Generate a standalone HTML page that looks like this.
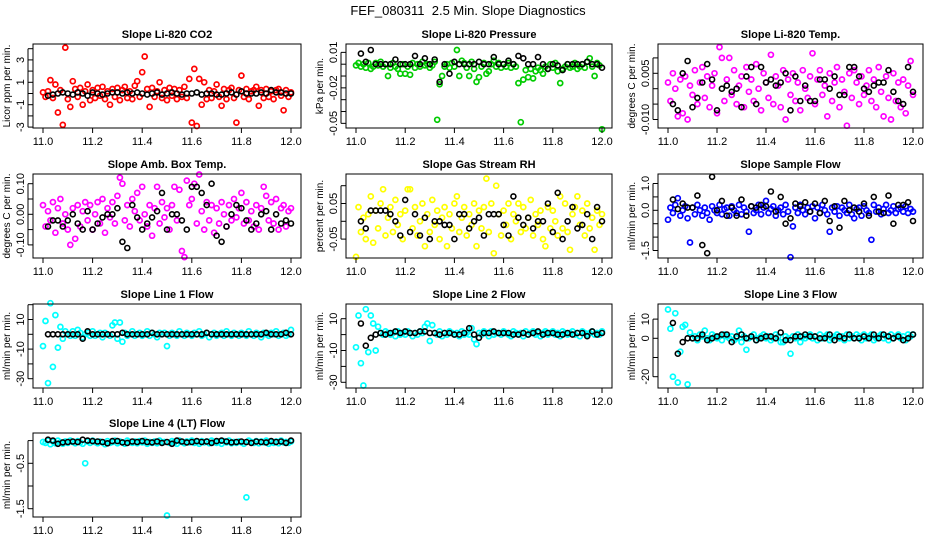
<!DOCTYPE html>
<html><head><meta charset="utf-8">
<style>
html,body{margin:0;padding:0;background:#fff;}
svg{display:block;font-family:"Liberation Sans",Arial,sans-serif;}
</style></head>
<body>
<svg id="chart" width="936" height="540" viewBox="0 0 936 540">
<text x="468" y="15" text-anchor="middle" font-size="13" style="white-space:pre" xml:space="preserve">FEF_080311  2.5 Min. Slope Diagnostics</text>
</svg>
<script>
const tColor = [11.00,11.01,11.02,11.03,11.04,11.05,11.06,11.07,11.08,11.09,11.10,11.11,11.12,11.13,11.14,11.15,11.16,11.17,11.18,11.19,11.20,11.21,11.22,11.23,11.24,11.25,11.26,11.27,11.28,11.29,11.30,11.31,11.32,11.33,11.34,11.35,11.36,11.37,11.38,11.39,11.40,11.41,11.42,11.43,11.44,11.45,11.46,11.47,11.48,11.49,11.50,11.51,11.52,11.53,11.54,11.55,11.56,11.57,11.58,11.59,11.60,11.61,11.62,11.63,11.64,11.65,11.66,11.67,11.68,11.69,11.70,11.71,11.72,11.73,11.74,11.75,11.76,11.77,11.78,11.79,11.80,11.81,11.82,11.83,11.84,11.85,11.86,11.87,11.88,11.89,11.90,11.91,11.92,11.93,11.94,11.95,11.96,11.97,11.98,11.99,12.00];
const tBlack = [11.02,11.04,11.06,11.08,11.10,11.12,11.14,11.16,11.18,11.20,11.22,11.24,11.26,11.28,11.30,11.32,11.34,11.36,11.38,11.40,11.42,11.44,11.46,11.48,11.50,11.52,11.54,11.56,11.58,11.60,11.62,11.64,11.66,11.68,11.70,11.72,11.74,11.76,11.78,11.80,11.82,11.84,11.86,11.88,11.90,11.92,11.94,11.96,11.98,12.00];
const xTicks = [11.0,11.2,11.4,11.6,11.8,12.0];
const xTickLabels = ["11.0","11.2","11.4","11.6","11.8","12.0"];

const co2Color = [0.1,-0.3,0.2,1.2,-0.4,0.8,-1.7,0.3,-2.8,4.1,-0.5,-1.2,1.1,0.4,-0.3,0.5,-1.0,0.2,0.8,-0.6,0.3,-0.4,0.5,-0.2,0.6,-0.5,0.2,-1.0,0.4,-0.3,0.5,-0.6,0.3,0.6,-0.4,0.2,-0.5,0.7,1.1,-0.3,1.9,3.3,0.4,-1.2,0.5,-0.3,0.2,1.0,-0.4,0.3,-0.6,0.5,-0.2,0.4,-0.5,0.3,-0.3,0.6,-0.4,1.3,-2.6,2.2,-2.9,1.3,-1.0,1.0,-0.5,0.3,-0.4,0.2,0.8,-0.3,-1.1,0.4,-0.5,0.3,0.5,-0.4,-2.6,0.3,1.6,-0.3,0.4,-0.5,0.2,0.3,0.6,-1.1,0.3,-0.4,0.4,-0.3,0.2,-0.5,0.3,0.4,-0.2,-1.5,0.3,-0.3,0.1];
const co2Black = [-0.2,-0.1,0.0,0.1,0.0,-0.1,0.1,0.0,-0.2,0.1,0.0,-0.1,0.0,0.1,0.1,0.0,0.1,0.0,0.1,0.0,-0.1,0.0,0.1,-0.1,0.0,0.1,0.0,-0.1,0.0,0.0,0.1,-0.1,0.0,0.0,-0.1,-0.1,0.0,0.1,-0.1,0.2,0.0,0.0,0.0,0.1,0.0,0.3,0.1,0.1,0.0,0.0];
const co2Ticks = [4,3,2,1,0,-1,-2,-3];
const co2TickLabels = ["","3","","1","","-1","","-3"];

const presColor = [-0.001,0.001,-0.002,0,-0.003,0.001,-0.004,-0.002,0.001,-0.001,0.002,-0.002,0,-0.010,-0.003,0.001,-0.002,-0.004,-0.008,0,-0.008,-0.002,-0.009,0.001,-0.003,0,-0.002,0.002,-0.001,0,-0.003,-0.001,0.002,-0.047,-0.017,-0.010,-0.002,0,-0.003,0.001,-0.002,0.012,-0.010,0.003,0.001,-0.003,-0.010,0.002,-0.004,-0.015,-0.011,-0.002,0.001,-0.008,-0.006,0,0.003,-0.002,0.001,-0.003,0,-0.002,0.001,-0.003,0,-0.002,-0.016,-0.049,-0.013,-0.005,-0.011,-0.004,-0.012,-0.006,-0.003,-0.005,-0.008,-0.002,-0.004,0,-0.003,0.001,-0.006,-0.016,-0.004,-0.002,0,-0.003,-0.002,0.001,-0.004,-0.002,0,-0.003,0.002,0.005,-0.002,-0.010,0.001,-0.001,-0.055];
const presBlack = [0.009,0.002,0.012,0,0,0,0,0.004,0,0,0,0.007,0,0.005,0,0.004,-0.015,0,-0.008,0.002,0,0,0,0,0.002,0,0,0.006,0,0,0.003,0,0.007,0.005,0,0,0.006,0,-0.004,0,-0.001,-0.005,0,0,0,0,0.002,0,0,-0.003];
const presTicks = [0.01,0,-0.01,-0.02,-0.03,-0.04,-0.05];
const presTickLabels = ["0.01","","","-0.02","","","-0.05"];

const tempColor = [0.002,-0.004,0.005,0.000,-0.009,0.003,-0.008,0.004,-0.010,0.001,-0.002,0.006,-0.005,0.002,0.007,-0.003,0.004,-0.006,0.001,0.005,-0.008,0.0135,0.010,-0.004,0.003,0.010,-0.002,0.006,-0.005,0.001,0.004,-0.006,0.007,-0.001,0.003,-0.004,0.008,0.000,-0.007,0.005,0.002,-0.003,0.011,-0.005,0.004,0.001,-0.006,0.006,-0.010,0.003,-0.002,0.005,-0.004,0.002,-0.007,0.006,0.000,-0.003,0.004,0.0115,-0.005,0.003,0.006,-0.002,0.001,-0.009,0.005,-0.004,0.002,0.007,-0.006,0.003,-0.001,-0.012,0.005,-0.003,0.006,0.002,-0.005,0.004,-0.002,0.001,0.006,-0.004,0.003,-0.006,0.007,-0.001,-0.009,0.004,-0.003,-0.010,0.005,-0.004,0.002,-0.006,0.003,-0.008,0.001,0.009,-0.002];
const tempBlack = [-0.005,-0.007,0.005,0.009,-0.006,-0.003,0.002,0.008,0.003,-0.007,0.000,0.001,-0.001,0.000,-0.006,0.004,0.007,-0.005,0.007,0.002,0.003,0.001,0.002,0.005,-0.007,0.004,-0.004,0.001,-0.004,-0.004,0.003,0.003,0.000,0.004,-0.002,-0.002,0.007,0.007,0.004,0.000,-0.001,0.001,0.002,0.002,0.006,-0.001,-0.004,-0.005,0.007,-0.001];
const tempTicks = [0.010,0.005,0,-0.005,-0.010];
const tempTickLabels = ["","0.005","","","-0.010"];

const ambColor = [0.03,-0.04,0.01,-0.02,0.04,-0.06,0.02,0.05,-0.03,0.00,-0.05,-0.10,0.02,-0.08,0.03,-0.04,0.01,0.04,-0.02,0.03,-0.05,0.00,0.04,-0.03,0.05,-0.06,0.02,-0.01,0.04,-0.03,0.06,0.12,0.10,-0.02,0.03,-0.04,0.05,0.01,0.07,-0.02,0.09,0.00,-0.04,0.03,-0.07,0.02,0.09,-0.03,0.04,-0.01,0.02,-0.05,0.03,0.09,-0.02,0.08,-0.12,-0.14,0.11,0.03,0.05,0.10,-0.03,0.13,0.01,-0.05,0.04,-0.02,0.03,-0.06,0.02,-0.03,0.04,0.00,-0.04,0.03,-0.02,0.05,-0.01,0.02,0.07,-0.03,0.04,-0.02,0.01,-0.04,0.03,-0.05,0.02,0.09,0.06,-0.02,0.04,-0.03,0.05,-0.05,0.02,0.03,-0.04,0.01,0.02];
const ambBlack = [-0.04,-0.02,-0.02,-0.04,-0.02,0.00,-0.03,-0.05,0.01,-0.05,-0.03,-0.01,0.00,0.00,0.02,-0.09,-0.11,0.03,-0.01,-0.05,-0.03,-0.01,0.01,0.07,-0.05,0.00,0.00,-0.02,-0.05,0.09,0.09,0.07,0.03,0.10,-0.07,-0.09,-0.04,0.00,0.03,0.02,-0.02,-0.05,-0.03,0.00,0.01,-0.05,0.00,-0.03,-0.02,-0.03];
const ambTicks = [0.10,0.05,0,-0.05,-0.10];
const ambTickLabels = ["0.10","","0.00","","-0.10"];

const rhColor = [-0.10,0.04,-0.03,0.01,-0.05,0.02,0.07,-0.06,0.03,-0.02,0.05,0.09,-0.04,0.01,0.04,-0.03,0.06,-0.01,0.02,-0.05,0.03,0.09,0.09,-0.02,0.04,-0.04,0.00,0.05,-0.07,0.02,-0.03,0.06,-0.01,0.03,-0.05,0.01,0.04,-0.07,0.02,-0.02,0.05,0.07,-0.03,0.01,0.04,-0.04,0.02,-0.01,0.05,-0.07,0.03,-0.02,0.04,0.12,-0.03,0.05,-0.09,0.10,0.02,-0.04,0.03,-0.01,0.05,-0.05,0.02,0.00,0.05,-0.03,0.04,-0.02,0.01,0.06,-0.04,0.02,-0.01,0.03,-0.05,-0.07,0.04,-0.02,0.03,0.00,-0.04,0.07,-0.02,0.05,-0.03,-0.08,0.02,0.04,0.07,-0.01,0.03,-0.04,0.05,-0.02,0.01,-0.08,0.03,-0.01,0.02];
const rhBlack = [0.00,-0.02,0.03,0.03,0.03,0.03,0.02,0.00,-0.04,0.06,-0.03,0.02,-0.04,0.01,-0.05,0.00,0.00,-0.01,-0.01,-0.05,0.02,0.02,-0.02,0.00,0.01,-0.04,0.02,0.02,0.02,-0.01,-0.04,0.07,0.01,-0.01,0.01,-0.02,0.00,0.00,0.05,-0.03,0.08,-0.05,0.00,0.04,-0.02,-0.01,0.02,-0.05,0.04,0.00];
const rhTicks = [0.10,0.05,0,-0.05];
const rhTickLabels = ["","0.05","","-0.05"];

const sampColor = [-0.35,0.1,-0.1,0.2,0.45,-0.2,0.0,0.15,-0.3,-1.2,0.1,-0.15,0.2,0.0,-0.2,0.1,-0.1,-0.35,0.15,0.0,-0.1,0.2,-0.15,0.05,0.1,-0.2,0.15,0.0,-0.1,0.2,-0.15,0.1,-0.05,-0.8,0.15,-0.1,0.0,0.2,-0.15,0.1,0.35,-0.1,0.05,0.15,-0.2,0.0,0.1,-0.15,0.2,-0.05,-1.75,-0.6,0.1,-0.1,0.2,0.0,-0.15,0.1,-0.05,0.15,-0.3,0.1,-0.1,0.2,0.0,-0.15,-0.8,0.1,-0.05,0.15,-0.2,0.1,0.0,-0.1,0.2,-0.15,-0.3,0.05,0.1,-0.2,0.15,0.0,-0.1,-1.1,0.2,-0.05,0.1,-0.15,0.05,0.2,-0.1,0.0,0.15,-0.1,0.05,0.1,-0.05,0.15,-0.1,0.05,-0.05];
const sampBlack = [0.4,0.05,0.25,0.1,0.1,0.55,-1.3,-1.6,1.25,0.0,0.35,-0.2,0.1,-0.2,0.4,-0.2,0.15,0.1,0.2,0.15,0.7,-0.05,0.5,-0.5,-0.3,0.25,0.15,0.3,-0.05,0.25,-0.1,0.35,-0.4,0.15,-0.65,0.35,0.0,0.1,-0.05,0.25,-0.2,0.5,-0.05,-0.1,0.55,-0.5,0.2,0.2,0.3,-0.4];
const sampTicks = [1.0,0.5,0,-0.5,-1.0,-1.5];
const sampTickLabels = ["1.0","","0.0","","","-1.5"];

const l1Color = [-8,9,-33,21,-22,13,-9,5,-3,2,0,-1,2,-1,3,1,-2,0,1,-1,2,-1,0,1,-2,1,0,-1,6,8,-3,8,-5,1,-1,0,2,-1,0,1,-1,0,2,-1,1,0,-2,1,0,1,-8,-1,1,0,-1,2,0,-1,1,0,-1,1,0,2,-1,0,1,-2,0,1,-1,0,1,-1,2,0,-1,1,0,-1,1,0,-1,2,0,-1,1,0,-2,1,0,-1,1,0,2,-1,0,1,-1,0,3];
const l1Black = [0,0,0,0,0,0,0,-3,2,0,0,0,0,0,0,1,0,0,0,0,0,1,0,0,0,0,0,0,0,0,0,0,1,0,0,0,0,0,0,0,0,0,0,0,1,0,0,0,1,0];
const l1Ticks = [20,10,0,-10,-20,-30];
const l1TickLabels = ["","10","","-10","","-30"];

const l2Color = [-8,12,-18,-32,16,-11,12,7,-10,5,1,0,2,1,0,1,-1,2,0,1,0,2,1,-1,1,0,2,1,5,7,-4,6,1,0,2,-1,1,0,2,1,0,1,-1,2,0,1,0,4,-3,-6,1,0,2,1,-1,2,0,1,1,0,2,1,0,-1,2,1,0,1,-1,2,0,1,2,0,1,-1,1,2,0,1,2,0,1,-1,2,1,0,1,2,0,1,-1,2,1,0,1,2,0,1,0,2];
const l2Black = [7,-7,-2,0,1,0,1,2,1,2,1,1,2,2,1,1,0,1,1,0,0,1,4,0,-2,1,1,2,1,1,1,0,0,1,0,1,2,0,1,1,0,0,1,0,1,1,-1,2,0,1];
const l2Ticks = [10,0,-10,-20,-30];
const l2TickLabels = ["10","","-10","","-30"];

const l3Color = [15,5,-20,13,-23,-7,6,7,-24,3,0,1,-1,2,1,4,0,-1,2,1,0,1,-1,2,1,0,1,-1,0,4,-2,1,-6,0,1,2,-1,0,1,2,0,1,-1,0,2,1,-2,-2,1,0,-8,1,0,2,-2,1,0,1,2,0,1,-1,2,0,1,2,-1,0,1,2,0,1,-1,2,0,1,0,2,1,-1,2,0,1,2,-1,0,1,2,0,1,-1,2,0,1,2,0,1,-1,2,1,2];
const l3Black = [8,-8,-2,0,0,0,2,-1,0,1,2,2,-2,1,2,0,1,-1,0,1,1,0,3,-1,-1,1,1,2,1,1,0,0,2,-1,1,0,2,0,0,1,0,2,0,2,1,0,1,-1,0,2];
const l3Ticks = [10,0,-10,-20];
const l3TickLabels = ["10","0","","-20"];

const l4Color = [-0.03,-0.05,0.0,-0.08,-0.02,-0.06,0.0,-0.04,-0.07,-0.02,-0.05,0.0,-0.03,-0.06,-0.01,-0.04,-0.07,-0.50,-0.02,-0.05,0.0,-0.03,-0.06,-0.02,-0.04,-0.08,-0.01,-0.05,-0.03,0.0,-0.06,-0.02,-0.04,-0.07,0.0,-0.03,-0.05,-0.02,-0.06,-0.01,-0.04,0.0,-0.07,-0.03,-0.05,-0.02,-0.06,0.0,-0.04,-0.03,-1.65,-0.05,-0.01,-0.04,-0.07,0.0,-0.03,-0.06,-0.02,-0.04,0.0,-0.05,-0.03,-0.07,-0.01,-0.04,-0.02,-0.06,0.0,-0.03,-0.05,-0.02,-0.07,-0.01,-0.04,0.0,-0.06,-0.03,-0.05,-0.02,-0.04,-0.07,-1.25,0.0,-0.03,-0.05,-0.01,-0.06,-0.02,-0.04,0.0,-0.07,-0.03,-0.05,-0.02,-0.06,0.0,-0.04,-0.03,-0.05,-0.02];
const l4Black = [0.02,0.0,-0.07,-0.04,-0.03,-0.02,-0.03,0.02,0.0,-0.01,-0.02,-0.03,-0.06,-0.01,-0.01,-0.04,-0.05,-0.02,-0.03,-0.01,-0.03,-0.04,-0.02,-0.05,-0.03,-0.07,0.0,-0.02,-0.04,-0.03,-0.01,-0.03,-0.02,-0.05,-0.01,0.0,-0.02,-0.04,-0.03,-0.02,-0.03,-0.05,-0.02,-0.03,-0.04,-0.01,-0.03,-0.02,-0.05,0.0];
const l4Ticks = [0,-0.5,-1.0,-1.5];
const l4TickLabels = ["","-0.5","","-1.5"];

// layout (pixel geometry only)
const cols = [{l:33,r:301},{l:346,r:612},{l:658,r:923}];
const rows = [{t:44,b:128},{t:174,b:258},{t:304,b:388},{t:433,b:517}];

const panels = [
 {key:'co2',title:'Slope Li-820 CO2',ylab:'Licor ppm per min.',color:'#ff0000',c:0,r:0,y0:93.5,ys:11.2,col:co2Color,blk:co2Black,ticks:co2Ticks,tl:co2TickLabels},
 {key:'pressure',title:'Slope Li-820 Pressure',ylab:'kPa per min.',color:'#00cc00',c:1,r:0,y0:64.2,ys:1183,col:presColor,blk:presBlack,ticks:presTicks,tl:presTickLabels},
 {key:'li820-temp',title:'Slope Li-820 Temp.',ylab:'degrees C per min.',color:'#ff00ff',c:2,r:0,y0:88.7,ys:3080,col:tempColor,blk:tempBlack,ticks:tempTicks,tl:tempTickLabels},
 {key:'amb-box-temp',title:'Slope Amb. Box Temp.',ylab:'degrees C per min.',color:'#ff00ff',c:0,r:1,y0:214.3,ys:306,col:ambColor,blk:ambBlack,ticks:ambTicks,tl:ambTickLabels},
 {key:'gas-stream-rh',title:'Slope Gas Stream RH',ylab:'percent per min.',color:'#ffff00',c:1,r:1,y0:221.3,ys:356,col:rhColor,blk:rhBlack,ticks:rhTicks,tl:rhTickLabels},
 {key:'sample-flow',title:'Slope Sample Flow',ylab:'ml/min per min.',color:'#0000ff',c:2,r:1,y0:210.3,ys:26.8,col:sampColor,blk:sampBlack,ticks:sampTicks,tl:sampTickLabels},
 {key:'line1-flow',title:'Slope Line 1 Flow',ylab:'ml/min per min.',color:'#00ffff',c:0,r:2,y0:334.3,ys:1.48,col:l1Color,blk:l1Black,ticks:l1Ticks,tl:l1TickLabels},
 {key:'line2-flow',title:'Slope Line 2 Flow',ylab:'ml/min per min.',color:'#00ffff',c:1,r:2,y0:334.6,ys:1.59,col:l2Color,blk:l2Black,ticks:l2Ticks,tl:l2TickLabels},
 {key:'line3-flow',title:'Slope Line 3 Flow',ylab:'ml/min per min.',color:'#00ffff',c:2,r:2,y0:338.3,ys:1.92,col:l3Color,blk:l3Black,ticks:l3Ticks,tl:l3TickLabels},
 {key:'line4-flow',title:'Slope Line 4 (LT) Flow',ylab:'ml/min per min.',color:'#00ffff',c:0,r:3,y0:440.6,ys:45.4,col:l4Color,blk:l4Black,ticks:l4Ticks,tl:l4TickLabels}
];

const NS='http://www.w3.org/2000/svg';
const svg=document.getElementById('chart');
function mk(tag,attrs,parent){const e=document.createElementNS(NS,tag);for(const k in attrs)e.setAttribute(k,attrs[k]);parent.appendChild(e);return e;}

panels.forEach(p=>{
  const L=cols[p.c].l,R=cols[p.c].r,T=rows[p.r].t,B=rows[p.r].b;
  const x0=L+10,x1=R-10;
  const xs=v=>x0+(v-11)*(x1-x0);
  const ys=v=>p.y0-v*p.ys;
  const g=mk('g',{},svg);
  
  
  const title=mk('text',{x:(L+R)/2,y:T-6,'text-anchor':'middle','font-size':'11','font-weight':'bold'},g);
  title.textContent=p.title;
  
  
  const pg=mk('g',{fill:'none','stroke-width':'1.7'},g);
  
  
  const n=Math.min(tColor.length,p.col.length);
  for(let i=0;i<n;i++){
    const c=mk('circle',{cx:xs(tColor[i]).toFixed(1),cy:ys(p.col[i]).toFixed(1),r:'2.5',stroke:p.color},pg);
    
    
  }
  const bg=mk('g',{fill:'none','stroke-width':'1.6'},g);
  
  
  const m=Math.min(tBlack.length,p.blk.length);
  for(let i=0;i<m;i++){
    const c=mk('circle',{cx:xs(tBlack[i]).toFixed(1),cy:ys(p.blk[i]).toFixed(1),r:'2.5',stroke:'#000'},bg);
    
    
  }
  const box=mk('rect',{x:L,y:T,width:R-L,height:B-T,fill:'none',stroke:'#000','stroke-width':'1'},g);
  
  
  const xa=mk('g',{},g);
  
  
  xTicks.forEach((v,i)=>{
    const X=xs(v);
    mk('line',{x1:X,x2:X,y1:B,y2:B+5,stroke:'#000'},xa);
    const t=mk('text',{x:X,y:B+17,'text-anchor':'middle','font-size':'11'},xa);
    t.textContent=xTickLabels[i];
    
    
  });
  const ya=mk('g',{},g);
  
  
  const yt=p.ticks.map(ys);
  mk('line',{x1:L-5,x2:L-5,y1:Math.min(...yt),y2:Math.max(...yt),stroke:'#000'},ya);
  p.ticks.forEach((v,i)=>{
    const Y=ys(v);
    mk('line',{x1:L-5,x2:L,y1:Y,y2:Y,stroke:'#000'},ya);
    if(p.tl[i]){
      const t=mk('text',{x:L-9,y:Y,'text-anchor':'middle','font-size':'11',transform:`rotate(-90 ${L-9} ${Y})`},ya);
      t.textContent=p.tl[i];
      
      
    }
  });
  const yl=mk('text',{x:L-23,y:(T+B)/2,'text-anchor':'middle','font-size':'10',transform:`rotate(-90 ${L-23} ${(T+B)/2})`},g);
  yl.textContent=p.ylab;
  
  
});
</script>
</body></html>
